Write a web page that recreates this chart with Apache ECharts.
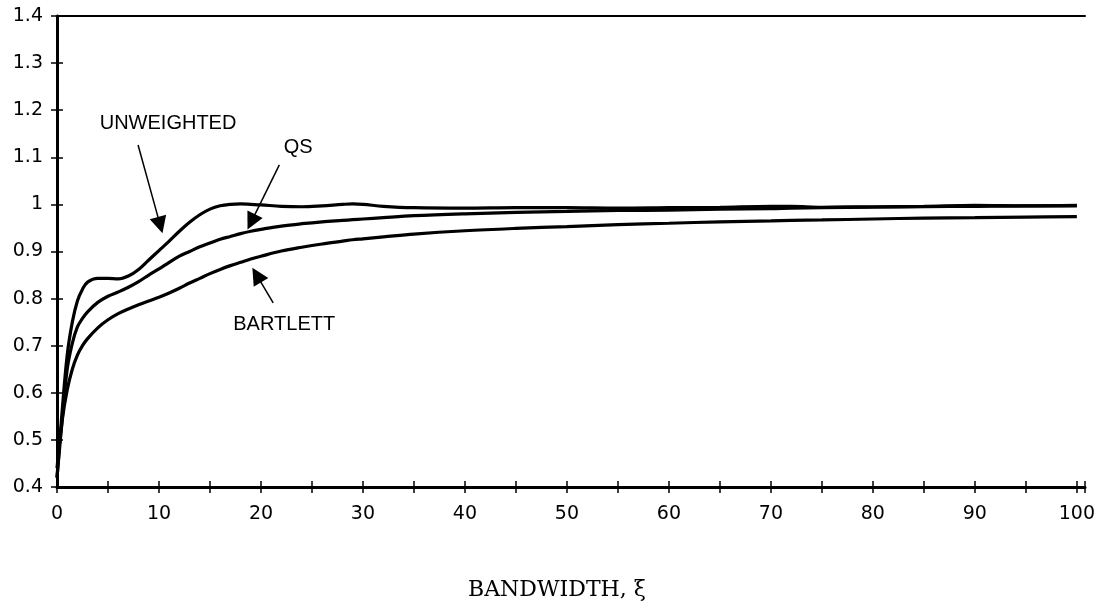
<!DOCTYPE html>
<html>
<head>
<meta charset="utf-8">
<script src="https://cdn.jsdelivr.net/npm/echarts@6/dist/echarts.min.js"></script>
<style>
html,body{margin:0;padding:0;background:#fff;}
#chart{width:1098px;height:613px;}
</style>
</head>
<body>
<div id="chart"></div>
<script>
// Bandwidth values (x)
const bandwidth = [0,0.5,1,1.5,2,2.5,3,4,5,6,7,8,9,10,11,12,13,14,15,16,17,18,19,20,22,24,26,28,29,30,32,35,40,45,50,55,60,65,70,72,75,80,85,90,95,100];
const unweighted = [0.42,0.56,0.68,0.75,0.795,0.82,0.835,0.843,0.843,0.842,0.848,0.862,0.882,0.902,0.922,0.943,0.962,0.978,0.99,0.997,1.0,1.001,1.0,0.999,0.996,0.995,0.997,1.0,1.001,1.0,0.996,0.993,0.992,0.993,0.993,0.992,0.993,0.994,0.996,0.996,0.994,0.995,0.996,0.998,0.997,0.998];
const qs = [0.42,0.54,0.65,0.705,0.74,0.758,0.772,0.792,0.805,0.814,0.824,0.836,0.85,0.863,0.877,0.89,0.9,0.91,0.918,0.926,0.932,0.938,0.943,0.947,0.954,0.959,0.963,0.966,0.9675,0.969,0.972,0.976,0.98,0.983,0.985,0.987,0.988,0.99,0.991,0.992,0.993,0.994,0.995,0.996,0.997,0.997];
const bartlett = [0.44,0.54,0.606,0.65,0.68,0.7,0.715,0.738,0.755,0.768,0.778,0.787,0.795,0.803,0.812,0.822,0.833,0.843,0.853,0.862,0.87,0.877,0.884,0.89,0.901,0.909,0.916,0.922,0.925,0.927,0.931,0.937,0.944,0.949,0.953,0.957,0.96,0.963,0.965,0.966,0.967,0.969,0.971,0.972,0.973,0.974];

const xTickLabels = [0,10,20,30,40,50,60,70,80,90,100];
const yTickLabels = ['0.4','0.5','0.6','0.7','0.8','0.9','1','1.1','1.2','1.3','1.4'];

// Annotations (label text, label anchor, arrow start, arrow tip) in data units
const annotationNames = ['UNWEIGHTED','QS','BARTLETT'];
const annotationLabelAt = [[10.89,1.171],[23.65,1.12],[22.28,0.746]];
const annotationArrowFrom = [[7.95,1.126],[21.8,1.084],[21.2,0.791]];
const annotationArrowTo = [[10.12,0.956],[19.05,0.963],[19.58,0.85]];

const X_MIN = 0, X_MAX = 100.8, Y_MIN = 0.4, Y_MAX = 1.4;
const toPairs = ys => bandwidth.map((x,i)=>[x, ys[i]]);

const chart = echarts.init(document.getElementById('chart'), null, {renderer:'canvas'});
const tickFont = {color:'#000', fontFamily:'DejaVu Sans', fontSize:19};
const lineStyleBlack = w => ({color:'#000', width:w});

const baseLine = {
  type:'line', showSymbol:false, symbol:'none', smooth:0.35,
  lineStyle:{color:'#000', width:3.2}, xAxisIndex:0, yAxisIndex:0, silent:true, animation:false
};

const series = [
  Object.assign({}, baseLine, {name:'UNWEIGHTED', data: toPairs(unweighted)}),
  Object.assign({}, baseLine, {name:'QS', data: toPairs(qs)}),
  Object.assign({}, baseLine, {name:'BARTLETT', data: toPairs(bartlett)}),
  {
    type:'line', data:[], xAxisIndex:0, yAxisIndex:0, silent:true, animation:false,
    markLine:{
      silent:true, animation:false,
      symbol:['none','triangle'], symbolSize:17,
      itemStyle:{color:'#000'},
      lineStyle:{color:'#000', width:1.5, type:'solid'},
      label:{show:false},
      data: annotationNames.map((n,i)=>[{coord:annotationArrowFrom[i]},{coord:annotationArrowTo[i]}])
    },
    markPoint:{
      silent:true, animation:false, symbol:'circle', symbolSize:0,
      label:{show:true, position:'inside', color:'#000', fontFamily:'Liberation Sans', fontSize:20, formatter: p=>p.name},
      data: annotationNames.map((n,i)=>({name:n, coord:annotationLabelAt[i]}))
    }
  }
];

chart.setOption({
  backgroundColor:'#fff',
  animation:false,
  title:{text:'BANDWIDTH, ξ', left:463, top:574, textStyle:{fontFamily:'DejaVu Serif', fontWeight:'normal', fontSize:22, color:'#000'}},
  grid:{left:57, right:13, top:16, bottom:126, containLabel:false},
  xAxis:[
    {type:'value', min:X_MIN, max:X_MAX, interval:5, position:'bottom',
     axisLine:{show:true, lineStyle:lineStyleBlack(3)},
     axisTick:{show:true, length:6, lineStyle:lineStyleBlack(1.5)},
     axisLabel:Object.assign({margin:18, formatter:v=> xTickLabels.indexOf(v)>=0 ? String(v) : ''}, tickFont),
     splitLine:{show:false}},
    {type:'value', min:X_MIN, max:X_MAX, interval:5, position:'bottom',
     axisLine:{show:false}, axisTick:{show:true, inside:true, length:6, lineStyle:lineStyleBlack(1.5)},
     axisLabel:{show:false}, splitLine:{show:false}},
    {type:'value', min:X_MIN, max:X_MAX, position:'top',
     axisLine:{show:true, lineStyle:lineStyleBlack(2)}, axisTick:{show:false},
     axisLabel:{show:false}, splitLine:{show:false}}
  ],
  yAxis:[
    {type:'value', min:Y_MIN, max:Y_MAX, interval:0.1, position:'left',
     axisLine:{show:true, lineStyle:lineStyleBlack(3)},
     axisTick:{show:true, length:6, lineStyle:lineStyleBlack(1.5)},
     axisLabel:Object.assign({margin:14, formatter:v=>{const s=yTickLabels.find(t=>Math.abs(parseFloat(t)-v)<1e-6); return s||'';}}, tickFont),
     splitLine:{show:false}},
    {type:'value', min:Y_MIN, max:Y_MAX, interval:0.1, position:'left',
     axisLine:{show:false}, axisTick:{show:true, inside:true, length:6, lineStyle:lineStyleBlack(1.5)},
     axisLabel:{show:false}, splitLine:{show:false}},
    {type:'value', min:Y_MIN, max:Y_MAX, position:'right',
     axisLine:{show:true, lineStyle:lineStyleBlack(2.5)}, axisTick:{show:false},
     axisLabel:{show:false}, splitLine:{show:false}}
  ],
  series: series
});
</script>
</body>
</html>
